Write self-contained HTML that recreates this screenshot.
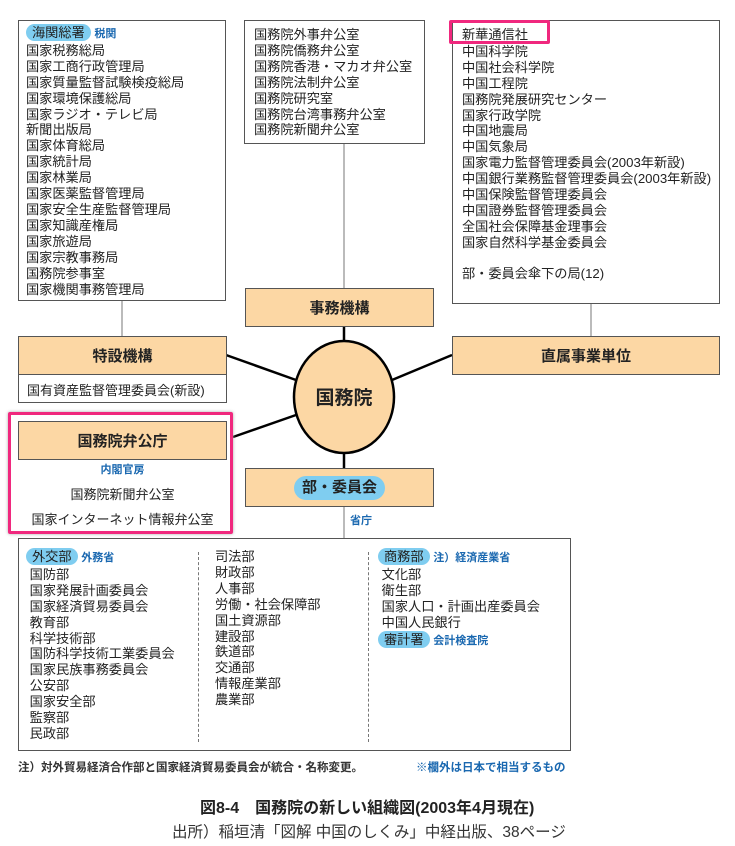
<!DOCTYPE html>
<html><head><meta charset="utf-8"><style>
body{margin:0;width:735px;height:846px;background:#fff;position:relative;overflow:hidden;font-family:"Liberation Sans","Noto Sans CJK JP",sans-serif;color:#222}
.a{position:absolute}
.box{position:absolute;border:1px solid #555;background:#fff;box-sizing:border-box}
.or{position:absolute;background:#fcd7a4;border:1px solid #555;box-sizing:border-box;font-weight:bold;font-size:15px;display:flex;align-items:center;justify-content:center}
.list{font-size:13.2px;line-height:15.9px;white-space:nowrap}
.pill{display:inline-block;background:#7fcdf0;border-radius:9px;padding:0 6px;line-height:17px}
.blue{color:#1a68b0;font-size:11px;font-weight:bold}
</style></head><body>
<svg class="a" style="left:0;top:0" width="735" height="846">
<line x1="122" y1="300" x2="122" y2="336" stroke="#777" stroke-width="1"/>
<line x1="344" y1="143" x2="344" y2="288" stroke="#777" stroke-width="1"/>
<line x1="591" y1="303" x2="591" y2="336" stroke="#777" stroke-width="1"/>
<line x1="344" y1="326" x2="344" y2="345" stroke="#000" stroke-width="2.5"/>
<line x1="344" y1="450" x2="344" y2="468" stroke="#000" stroke-width="2.5"/>
<line x1="226" y1="355" x2="296" y2="380" stroke="#000" stroke-width="2.5"/>
<line x1="233" y1="437" x2="296" y2="415" stroke="#000" stroke-width="2.5"/>
<line x1="452" y1="355" x2="392" y2="380" stroke="#000" stroke-width="2.5"/>
<line x1="344" y1="506" x2="344" y2="538" stroke="#777" stroke-width="1"/>
<ellipse cx="344" cy="397" rx="50" ry="56" fill="#fcd7a4" stroke="#000" stroke-width="2.5"/>
<text x="344" y="404" text-anchor="middle" font-size="19" font-weight="bold" font-family="Liberation Sans,Noto Sans CJK JP,sans-serif" fill="#222">国務院</text>
</svg>

<div class="box list" style="left:18px;top:20px;width:208px;height:281px;padding:3px 0 0 7px">
<div><span class="pill">海関総署</span> <span class="blue">税関</span></div>
<div>国家税務総局</div><div>国家工商行政管理局</div><div>国家質量監督試験検疫総局</div><div>国家環境保護総局</div><div>国家ラジオ・テレビ局</div><div>新聞出版局</div><div>国家体育総局</div><div>国家統計局</div><div>国家林業局</div><div>国家医薬監督管理局</div><div>国家安全生産監督管理局</div><div>国家知識産権局</div><div>国家旅遊局</div><div>国家宗教事務局</div><div>国務院参事室</div><div>国家機関事務管理局</div>
</div>

<div class="box list" style="left:244px;top:20px;width:181px;height:124px;padding:6px 0 0 9px">
<div>国務院外事弁公室</div><div>国務院僑務弁公室</div><div>国務院香港・マカオ弁公室</div><div>国務院法制弁公室</div><div>国務院研究室</div><div>国務院台湾事務弁公室</div><div>国務院新聞弁公室</div>
</div>

<div class="box list" style="left:452px;top:20px;width:268px;height:284px;padding:6px 0 0 9px">
<div>新華通信社</div><div style="margin-top:1px">中国科学院</div><div>中国社会科学院</div><div>中国工程院</div><div>国務院発展研究センター</div><div>国家行政学院</div><div>中国地震局</div><div>中国気象局</div><div>国家電力監督管理委員会(2003年新設)</div><div>中国銀行業務監督管理委員会(2003年新設)</div><div>中国保険監督管理委員会</div><div>中国證券監督管理委員会</div><div>全国社会保障基金理事会</div><div>国家自然科学基金委員会</div><div style="height:15px"></div><div>部・委員会傘下の局(12)</div>
</div>
<div class="a" style="left:449px;top:20px;width:95px;height:18px;border:3px solid #f0287e;border-radius:2px"></div>

<div class="or" style="left:245px;top:288px;width:189px;height:39px">事務機構</div>
<div class="or" style="left:18px;top:336px;width:209px;height:39px">特設機構</div>
<div class="box" style="left:18px;top:374px;width:209px;height:29px;font-size:13px;padding:5px 0 0 8px">国有資産監督管理委員会(新設)</div>
<div class="or" style="left:452px;top:336px;width:268px;height:39px">直属事業単位</div>

<div class="a" style="left:8px;top:412px;width:219px;height:116px;border:3px solid #f0287e;border-radius:2px;box-shadow:0 0 3px #aaa"></div>
<div class="or" style="left:18px;top:421px;width:209px;height:39px">国務院弁公庁</div>
<div class="a blue" style="left:18px;top:461px;width:209px;text-align:center">内閣官房</div>
<div class="a" style="left:18px;top:484px;width:209px;text-align:center;font-size:13px">国務院新聞弁公室</div>
<div class="a" style="left:12px;top:509px;width:221px;text-align:center;font-size:13px">国家インターネット情報弁公室</div>

<div class="or" style="left:245px;top:468px;width:189px;height:39px"><span class="pill" style="padding:0 8px;line-height:24px;border-radius:12px">部・委員会</span></div>
<div class="a blue" style="left:350px;top:512px">省庁</div>

<div class="box" style="left:18px;top:538px;width:553px;height:213px;border-width:1.5px"></div>
<div class="a" style="left:198px;top:552px;height:190px;border-left:1.5px dashed #777"></div>
<div class="a" style="left:368px;top:552px;height:190px;border-left:1.5px dashed #777"></div>
<div class="a list" style="left:26px;top:548px">
<div><span class="pill">外交部</span> <span class="blue">外務省</span></div>
<div>&nbsp;国防部</div><div>&nbsp;国家発展計画委員会</div><div>&nbsp;国家経済貿易委員会</div><div>&nbsp;教育部</div><div>&nbsp;科学技術部</div><div>&nbsp;国防科学技術工業委員会</div><div>&nbsp;国家民族事務委員会</div><div>&nbsp;公安部</div><div>&nbsp;国家安全部</div><div>&nbsp;監察部</div><div>&nbsp;民政部</div>
</div>
<div class="a list" style="left:215px;top:549px">
<div>司法部</div><div>財政部</div><div>人事部</div><div>労働・社会保障部</div><div>国土資源部</div><div>建設部</div><div>鉄道部</div><div>交通部</div><div>情報産業部</div><div>農業部</div>
</div>
<div class="a list" style="left:378px;top:548px">
<div><span class="pill">商務部</span> <span class="blue">注）経済産業省</span></div>
<div>&nbsp;文化部</div><div>&nbsp;衛生部</div><div>&nbsp;国家人口・計画出産委員会</div><div>&nbsp;中国人民銀行</div>
<div><span class="pill">審計署</span> <span class="blue">会計検査院</span></div>
</div>

<div class="a" style="left:18px;top:759px;font-size:11.5px;font-weight:bold;color:#333">注）対外貿易経済合作部と国家経済貿易委員会が統合・名称変更。</div>
<div class="a blue" style="left:416px;top:759px;font-size:11.5px">※欄外は日本で相当するもの</div>
<div class="a" style="left:200px;top:794px;font-size:16px;font-weight:bold;color:#222">図8-4　国務院の新しい組織図(2003年4月現在)</div>
<div class="a" style="left:172px;top:820px;font-size:15.5px;color:#333">出所）稲垣清「図解 中国のしくみ」中経出版、38ページ</div>
</body></html>
